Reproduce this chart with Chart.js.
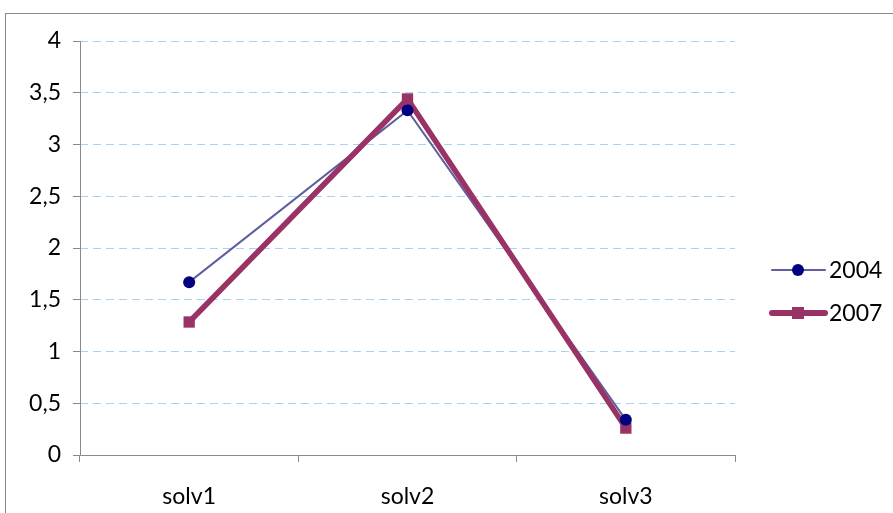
<!DOCTYPE html>
<html>
<head>
<meta charset="utf-8">
<script src="https://cdn.jsdelivr.net/npm/chart.js"></script>
<style>
  body { margin: 0; background: #fff; }
  #wrap { width: 893px; height: 513px; }
</style>
</head>
<body>
<div id="wrap"><canvas id="myChart" width="893" height="513"></canvas></div>
<script>
    // data
    const categories = ['solv1', 'solv2', 'solv3'];
    const values2004 = [1.67, 3.33, 0.34];
    const values2007 = [1.285, 3.44, 0.26];
    const seriesNames = ['2004', '2007'];
    const yTicks = [0, 0.5, 1, 1.5, 2, 2.5, 3, 3.5, 4];

    const col2004 = '#5f5f9f';
    const mark2004 = '#000080';
    const col2007 = '#993366';
    const fontFam = 'Lato, "Open Sans", sans-serif';
    const fontSize = 23;

    // frame, axis lines + legend drawn by hand (Excel style)
    const frameLegend = {
        id: 'frameLegend',
        beforeDraw(chart) {
            const c = chart.ctx;
            c.save();
            c.strokeStyle = '#8a8a8a';
            c.lineWidth = 1;
            c.strokeRect(5.5, 13.5, 1000, 1000);
            c.restore();
        },
        beforeDatasetsDraw(chart) {
            // solid axis lines over the dashed grid
            const a = chart.chartArea;
            const c = chart.ctx;
            c.save();
            c.strokeStyle = '#8a8a8a';
            c.lineWidth = 1;
            c.setLineDash([]);
            c.beginPath();
            c.moveTo(Math.round(a.left) + 0.5, a.top);
            c.lineTo(Math.round(a.left) + 0.5, Math.round(a.bottom) + 0.5);
            c.lineTo(a.right, Math.round(a.bottom) + 0.5);
            c.stroke();
            c.restore();
        },
        afterDraw(chart) {
            const c = chart.ctx;
            const items = [
                {name: seriesNames[0], line: col2004, mark: mark2004, w: 2, style: 'circle', y: 270},
                {name: seriesNames[1], line: col2007, mark: col2007, w: 6, style: 'rect', y: 313}
            ];
            c.save();
            items.forEach(function(it) {
                c.strokeStyle = it.line;
                c.lineWidth = it.w;
                c.lineCap = 'round';
                c.beginPath();
                c.moveTo(772, it.y);
                c.lineTo(825, it.y);
                c.stroke();
                c.fillStyle = it.mark;
                if (it.style === 'circle') {
                    c.beginPath();
                    c.arc(798, it.y, 6, 0, Math.PI * 2);
                    c.fill();
                } else {
                    c.fillRect(792, it.y - 6, 12, 12);
                }
                c.fillStyle = '#000';
                c.font = fontSize + 'px ' + fontFam;
                c.textBaseline = 'middle';
                c.fillText(it.name, 829, it.y + 1);
            });
            c.restore();
        }
    };

    const ctx = document.getElementById('myChart');
    let chart = new Chart(ctx, {
        type: 'line',
        data: {
            labels: categories,
            datasets: [
                {   // 2004 line only, underneath
                    label: seriesNames[0],
                    data: values2004,
                    borderColor: col2004,
                    borderWidth: 2,
                    pointRadius: 0,
                    order: 3
                },
                {
                    label: seriesNames[1],
                    data: values2007,
                    borderColor: col2007,
                    backgroundColor: col2007,
                    borderWidth: 5.5,
                    pointStyle: 'rect',
                    pointRadius: 8,
                    pointBorderWidth: 0,
                    order: 2
                },
                {   // 2004 markers on top
                    label: seriesNames[0],
                    data: values2004,
                    showLine: false,
                    backgroundColor: mark2004,
                    borderColor: mark2004,
                    pointRadius: 6,
                    pointBorderWidth: 0,
                    order: 1
                }
            ]
        },
        options: {
            responsive: false,
            animation: false,
            layout: { padding: { top: 41, right: 158, left: 0, bottom: 0 } },
            plugins: {
                legend: { display: false },
                tooltip: { enabled: false }
            },
            scales: {
                x: {
                    offset: true,
                    grid: {
                        offset: true,
                        drawOnChartArea: false,
                        tickLength: 7,
                        tickColor: '#8a8a8a'
                    },
                    border: { display: false },
                    ticks: {
                        padding: 21,
                        color: '#000',
                        font: { family: fontFam, size: fontSize }
                    },
                    afterFit(scale) { scale.height = 58; }
                },
                y: {
                    min: 0,
                    max: 4,
                    afterBuildTicks(scale) {
                        scale.ticks = yTicks.map(v => ({ value: v }));
                    },
                    grid: {
                        color: '#a9d3f5',
                        tickBorderDash: [],
                        tickColor: '#8a8a8a',
                        tickLength: 7
                    },
                    border: { display: false, dash: [8, 5] },
                    ticks: {
                        padding: 12,
                        color: '#000',
                        font: { family: fontFam, size: fontSize },
                        callback: v => String(v).replace('.', ',')
                    },
                    afterFit(scale) { scale.width = 80; }
                }
            }
        },
        plugins: [frameLegend]
    });
</script>
</body>
</html>
